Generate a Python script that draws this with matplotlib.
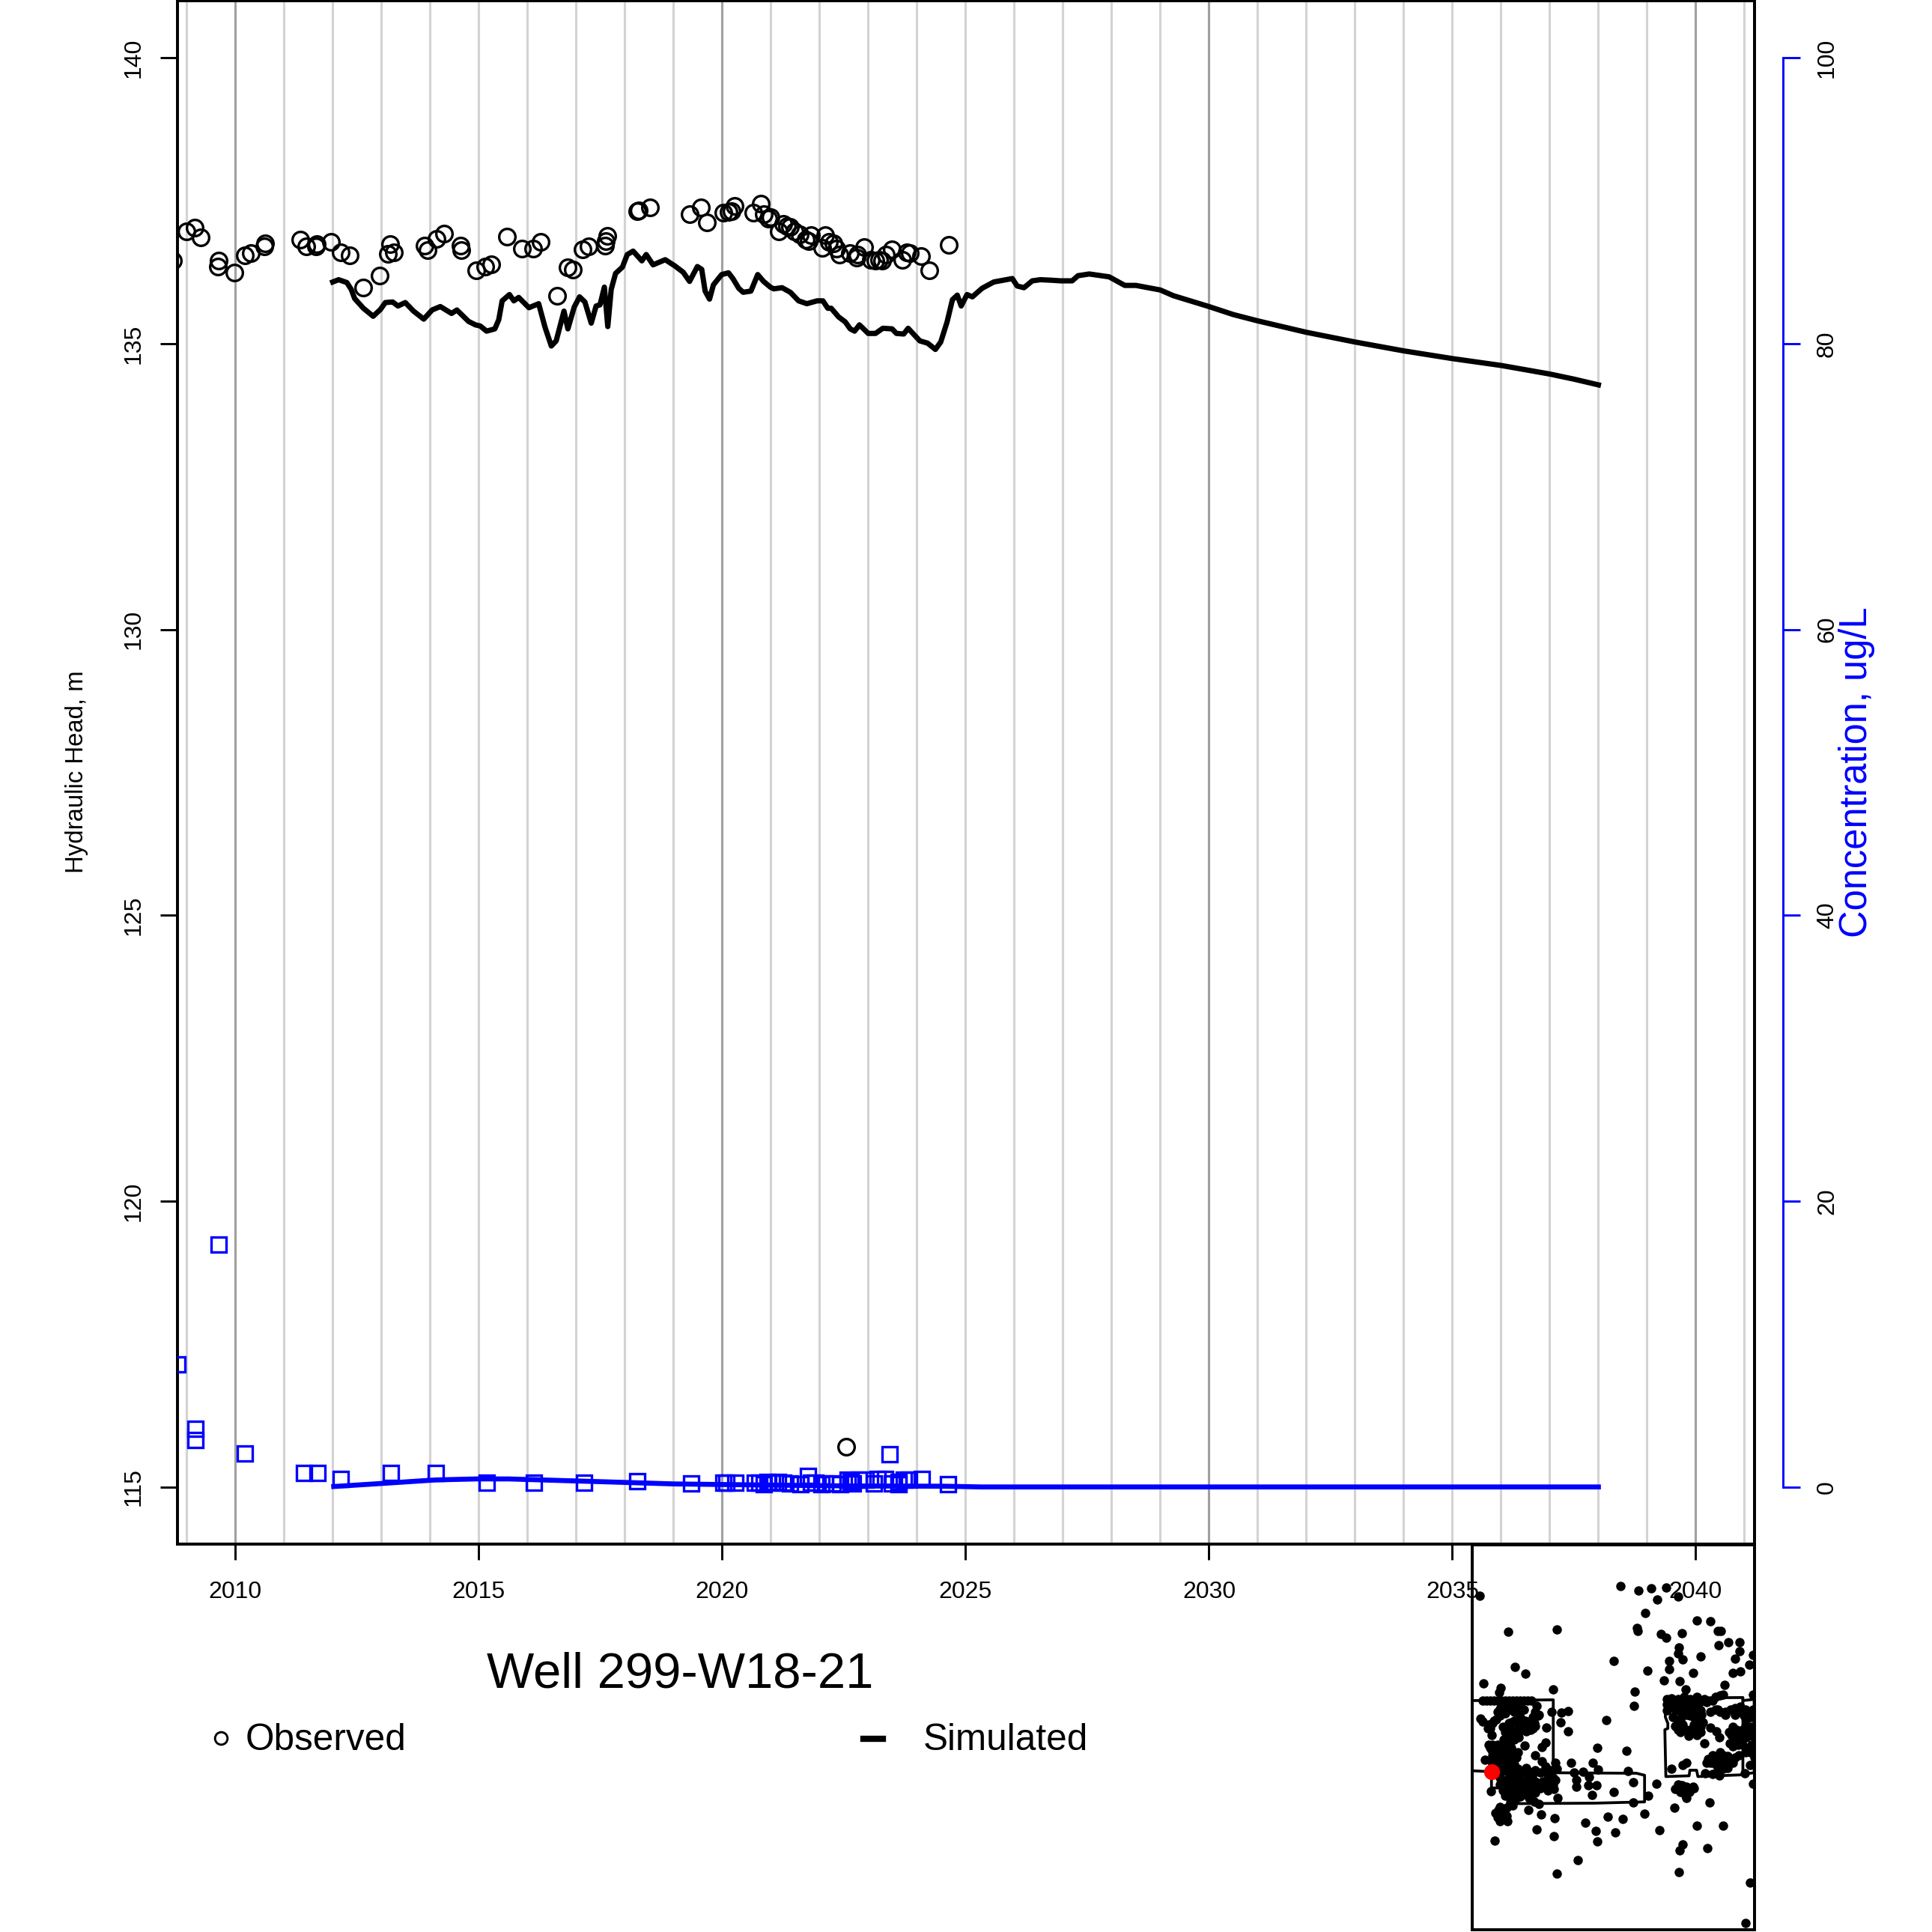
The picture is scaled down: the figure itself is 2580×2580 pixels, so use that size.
import matplotlib
matplotlib.use("Agg")
import matplotlib.pyplot as plt
from matplotlib.lines import Line2D

plt.rcParams['font.family'] = ['Liberation Sans', 'DejaVu Sans']

# observed head
obs_year = [2008.72, 2009.0, 2009.16, 2009.29, 2009.64, 2009.65, 2009.98, 2010.2, 2010.32, 2010.6, 2010.61,
            2011.33, 2011.45, 2011.65, 2011.67, 2011.97, 2012.16, 2012.35, 2012.62, 2012.96, 2013.13, 2013.18,
            2013.26, 2013.88, 2013.95, 2014.14, 2014.28, 2014.62, 2014.64, 2014.95, 2015.14, 2015.26, 2015.58,
            2015.89, 2016.12, 2016.27, 2016.61, 2016.83, 2016.94, 2017.14, 2017.26, 2017.59, 2017.61, 2017.64,
            2018.26, 2018.29, 2018.51, 2019.34, 2019.56, 2019.68, 2020.03, 2020.13, 2020.2, 2020.25, 2020.64,
            2020.8, 2020.85, 2020.94, 2020.99, 2021.16, 2021.26, 2021.33, 2021.4, 2021.48, 2021.59, 2021.71,
            2021.78, 2021.82, 2022.05, 2022.12, 2022.19, 2022.28, 2022.35, 2022.41, 2022.54, 2022.63, 2022.76,
            2022.78, 2022.92, 2023.05, 2023.15, 2023.22, 2023.29, 2023.36, 2023.49, 2023.7, 2023.8, 2023.85,
            2024.09, 2024.26, 2024.65]
obs_head = [136.45, 136.96, 137.03, 136.86, 136.35, 136.45, 136.24, 136.54, 136.59, 136.7, 136.75,
            136.82, 136.7, 136.7, 136.74, 136.78, 136.6, 136.54, 135.98, 136.19, 136.57, 136.74,
            136.6, 136.72, 136.64, 136.83, 136.93, 136.72, 136.64, 136.29, 136.35, 136.39, 136.87,
            136.66, 136.66, 136.78, 135.84, 136.33, 136.3, 136.65, 136.7, 136.72, 136.8, 136.89,
            137.32, 137.33, 137.39, 137.26, 137.39, 137.12, 137.29, 137.31, 137.32, 137.41, 137.29,
            137.45, 137.26, 137.19, 137.21, 136.97, 137.1, 137.06, 137.04, 136.97, 136.91, 136.82,
            136.8, 136.9, 136.68, 136.9, 136.78, 136.75, 136.67, 136.56, 115.7, 136.58, 136.51,
            136.56, 136.69, 136.47, 136.45, 136.47, 136.45, 136.56, 136.65, 136.47, 136.6, 136.58,
            136.53, 136.29, 136.73]

# simulated head
sim_year = [2012.0, 2012.12, 2012.29, 2012.38, 2012.45, 2012.63, 2012.83, 2012.98, 2013.08, 2013.23, 2013.34,
            2013.49, 2013.66, 2013.87, 2014.04, 2014.21, 2014.44, 2014.55, 2014.79, 2014.93, 2015.03, 2015.16,
            2015.33, 2015.41, 2015.48, 2015.63, 2015.72, 2015.82, 2016.03, 2016.23, 2016.36, 2016.49, 2016.59,
            2016.75, 2016.83, 2016.96, 2017.07, 2017.18, 2017.31, 2017.41, 2017.49, 2017.58, 2017.65, 2017.72,
            2017.81, 2017.95, 2018.05, 2018.17, 2018.35, 2018.44, 2018.58, 2018.83, 2019.03, 2019.2, 2019.33,
            2019.49, 2019.58, 2019.65, 2019.74, 2019.82, 2019.99, 2020.13, 2020.22, 2020.34, 2020.43, 2020.59,
            2020.73, 2020.85, 2020.99, 2021.06, 2021.23, 2021.4, 2021.57, 2021.74, 2021.95, 2022.07, 2022.17,
            2022.24, 2022.39, 2022.53, 2022.63, 2022.72, 2022.82, 2023.0, 2023.15, 2023.3, 2023.49, 2023.58,
            2023.73, 2023.82, 2023.95, 2024.06, 2024.22, 2024.38, 2024.49, 2024.62, 2024.73, 2024.83, 2024.91,
            2025.03, 2025.14, 2025.34, 2025.58, 2025.96, 2026.06, 2026.2, 2026.37, 2026.54, 2026.78, 2026.95,
            2027.19, 2027.31, 2027.54, 2027.95, 2028.27, 2028.5, 2029, 2029.27, 2030, 2030.5, 2031, 2032,
            2033, 2034, 2035, 2036, 2037, 2037.5, 2038]
sim_head = [136.08, 136.12, 136.07, 135.95, 135.79, 135.62, 135.48, 135.6, 135.72, 135.73, 135.66,
            135.72, 135.57, 135.43, 135.59, 135.65, 135.53, 135.59, 135.39, 135.33, 135.31, 135.22,
            135.26, 135.42, 135.75, 135.86, 135.75, 135.81, 135.63, 135.7, 135.29, 134.96, 135.05,
            135.57, 135.26, 135.64, 135.82, 135.73, 135.36, 135.66, 135.68, 135.99, 135.3, 135.95,
            136.23, 136.34, 136.56, 136.62, 136.45, 136.56, 136.38, 136.47, 136.36, 136.25, 136.09,
            136.35, 136.3, 135.92, 135.78, 136.03, 136.21, 136.24, 136.14, 135.97, 135.9, 135.92,
            136.21, 136.09, 135.99, 135.96, 135.98, 135.9, 135.75, 135.7, 135.75, 135.75, 135.62,
            135.62, 135.47, 135.38, 135.26, 135.22, 135.33, 135.18, 135.18, 135.27, 135.26, 135.18,
            135.17, 135.27, 135.15, 135.05, 135.01, 134.9, 135.03, 135.38, 135.77, 135.85, 135.66,
            135.86, 135.82, 135.97, 136.08, 136.14, 136.01, 135.98, 136.1, 136.12, 136.11, 136.1,
            136.1, 136.19, 136.22, 136.17, 136.02, 136.02, 135.94, 135.84, 135.65, 135.51, 135.4, 135.2,
            135.03, 134.875, 134.74, 134.62, 134.47, 134.38, 134.28]

# observed concentration
conc_year = [2008.81, 2009.18, 2009.18, 2009.65, 2010.2, 2011.41, 2011.68, 2012.17, 2013.19, 2014.12, 2015.17,
             2016.13, 2017.16, 2018.25, 2019.37, 2020.03, 2020.08, 2020.27, 2020.67, 2020.76, 2020.85, 2020.93,
             2021.02, 2021.15, 2021.25, 2021.4, 2021.61, 2021.77, 2021.83, 2021.92, 2022.04, 2022.12, 2022.27,
             2022.43, 2022.58, 2022.64, 2022.68, 2022.81, 2022.94, 2023.12, 2023.2, 2023.35, 2023.44, 2023.48,
             2023.62, 2023.63, 2023.73, 2023.84, 2024.1, 2024.64]
conc_val = [8.56, 4.05, 3.27, 16.95, 2.34, 1.0, 1.0, 0.58, 1.0, 1.0, 0.3,
            0.3, 0.3, 0.4, 0.26, 0.3, 0.3, 0.3, 0.3, 0.3, 0.17, 0.33,
            0.3, 0.33, 0.3, 0.26, 0.17, 0.79, 0.3, 0.3, 0.17, 0.23, 0.23,
            0.17, 0.52, 0.35, 0.26, 0.52, 0.52, 0.26, 0.56, 0.56, 2.31, 0.26,
            0.35, 0.17, 0.52, 0.52, 0.58, 0.17]

# simulated concentration
conc_sim_year = [2012.02, 2013.08, 2014.11, 2014.93, 2015.62, 2016.3, 2017.68, 2019.02, 2020.5, 2022.58, 2024.6, 2025.32, 2038]
conc_sim_val = [0.03, 0.26, 0.49, 0.56, 0.56, 0.49, 0.35, 0.21, 0.15, 0.07, 0.05, 0.0, 0.0]

year_ticks = [2010, 2015, 2020, 2025, 2030, 2035, 2040]
head_ticks = [115, 120, 125, 130, 135, 140]
conc_ticks = [0, 20, 40, 60, 80, 100]

# site map wells, map units
map_x = [642, 714, 762, 822, 786, 870, 78, 738, 947, 1001, 708, 710, 192, 386, 802, 822, 887, 1030, 1042, 1073, 1116,
         1032, 875, 870, 1118, 890, 962, 1100, 1172, 615, 836, 836, 1155, 218, 260, 749, 932, 1090, 1120, 814, 878,
         92, 162, 157, 371, 698, 900, 1056, 695, 585, 1170, 1050, 1020,
         90, 105, 120, 135, 150, 165, 180, 195, 210, 225, 240, 255, 270, 285,
         305, 160, 180, 366, 405, 432, 315, 290, 82, 90, 240, 255, 225, 210, 230, 240, 160, 145, 130, 120, 125, 400,
         432, 345, 300, 280, 260, 205, 190, 180, 205, 225, 200, 340, 325, 258, 130, 150, 170, 125, 145, 165, 190, 215,
         230, 205, 130, 155, 180, 100, 300, 325, 340, 380, 385, 200, 215, 265, 240, 290, 320, 350, 380, 180, 160, 190,
         215, 240, 270, 300, 340, 375, 122, 170, 200, 220, 250, 280, 300, 210, 240, 275, 295, 315, 390, 210, 185, 153,
         170, 150, 160, 188, 272, 324, 378, 306, 375, 138, 386, 470, 444, 530, 552, 456, 492, 514, 465, 464, 512, 546,
         528, 615, 672, 692, 692, 752, 783, 548, 666, 735, 591, 651, 500, 542, 620, 548, 797,
         825, 845, 870, 895, 920, 945, 975, 825, 850, 880, 905, 930, 955, 985, 825, 845, 885, 940, 960, 1030, 1080,
         1100, 1120, 1060, 1100, 850, 880, 890, 935, 950, 970, 870, 880, 905, 912, 945, 960, 1000, 1025, 1035, 1090,
         1075, 1105, 1140, 1150, 1165, 1145, 1160, 1145, 1125, 1100, 1078, 1165, 1150, 1140, 975, 1040, 1010, 990, 985,
         1040, 1070, 1100, 1060, 1090, 1050, 1035, 980, 1010, 1137, 1160, 1175, 905, 890, 843, 1170, 1160, 1140,
         870, 885, 905, 930, 860, 880, 900, 915, 935, 855, 998, 945, 1050, 888, 878, 989, 873]
map_y = [204, 221, 212, 209, 257, 245, 242, 310, 340, 343, 367, 380, 384, 373, 393, 406, 390, 380, 381, 425, 425,
         437, 445, 468, 460, 491, 481, 490, 476, 497, 497, 530, 512, 523, 549, 538, 547, 546, 541, 576, 579,
         588, 605, 622, 612, 620, 611, 594, 677, 733, 632, 630, 640,
         655, 655, 655, 655, 655, 655, 655, 655, 655, 655, 655, 655, 655, 655,
         675, 688, 705, 700, 703, 697, 710, 720, 725, 738, 680, 690, 670, 680, 700, 720, 715, 730, 745, 765, 792, 742,
         776, 762, 755, 770, 760, 740, 760, 780, 790, 800, 815, 820, 838, 832, 830, 830, 835, 850, 860, 850, 850, 860,
         860, 840, 870, 880, 880, 888, 872, 895, 915, 900, 925, 905, 930, 920, 945, 945, 940, 945, 970, 930, 960, 965,
         960, 975, 960, 975, 990, 1005, 1012, 1010, 1000, 1015, 1000, 1005, 1020, 1040, 1035, 1040, 1055, 1062, 1040, 1070, 1078, 1088,
         1100, 1115, 1130, 1130, 1086, 1106, 1118, 1165, 1190, 1207, 1337, 1284, 900, 900, 928, 940, 937, 956, 970, 994, 990, 990,
         1028, 1015, 934, 978, 1058, 1030, 982, 840, 852, 1103, 1112, 1122, 1136, 1170, 1177, 1212, 1168,
         650, 645, 650, 640, 650, 640, 650, 670, 665, 670, 665, 670, 665, 660, 695, 680, 700, 690, 695, 690, 690,
         685, 680, 700, 710, 720, 730, 750, 720, 740, 740, 770, 780, 770, 795, 790, 780, 762, 775, 800, 760,
         780, 770, 755, 700, 720, 730, 790, 800, 810, 800, 825, 830, 840, 860, 825, 858, 870, 885, 900,
         880, 875, 880, 900, 900, 925, 950, 942, 945, 943, 910, 905, 900, 910, 925, 982, 1375, 1532,
         985, 990, 995, 995, 1005, 1015, 1030, 1015, 1000, 1077, 1058, 1148, 1148, 1224, 1248, 1237, 1331]

# wells in the dense clusters
dense_x = [150, 135, 115, 110, 170, 195, 215, 185, 205, 225, 215, 235, 190, 175, 120, 140, 115, 165, 185, 205, 225,
           145, 125, 170, 190, 215, 230, 150, 130, 165, 195, 200, 225, 255, 275, 300, 335, 360, 160, 180, 205, 230,
           260, 285, 180, 195, 225, 255, 280, 300, 200, 160, 165, 140, 185, 240, 260, 275, 295, 235, 250, 265, 290,
           215, 230, 195, 195, 170, 165, 300, 310, 350, 330, 320, 350, 370, 370, 360,
           840, 860, 875, 900, 920, 945, 965, 905, 885, 920, 870, 860, 935, 940, 960, 885, 920, 1000, 1020, 1040,
           1060, 1120, 1135, 1140, 1170, 1175, 1130, 1110, 1085, 1120, 1140, 1165, 1155, 1175, 1130, 1110, 1090,
           1175, 1160, 1020, 1050, 1075, 1020, 1040, 1070, 1030, 1000, 1115, 1175, 1010, 1040, 880, 895, 920, 905]
dense_y = [700, 735, 750, 765, 760, 745, 735, 790, 770, 780, 810, 800, 825, 810, 840, 845, 830, 870, 865, 880, 880,
           895, 890, 900, 900, 905, 925, 920, 905, 935, 935, 955, 945, 940, 935, 930, 935, 930, 985, 985, 985, 985,
           985, 985, 1030, 1025, 1040, 1025, 1025, 1000, 1060, 1075, 1120, 1100, 1110, 740, 735, 745, 745, 760, 770, 775, 765,
           700, 680, 670, 690, 668, 675, 700, 715, 965, 975, 1000, 1010, 985, 960, 945,
           660, 690, 695, 690, 690, 710, 710, 710, 715, 715, 740, 755, 750, 770, 760, 760, 770, 700, 690, 700,
           710, 700, 715, 690, 690, 715, 770, 780, 790, 790, 780, 760, 770, 800, 830, 830, 835,
           850, 860, 880, 870, 895, 905, 905, 920, 930, 900, 870, 880, 655, 635, 1000, 1015, 1005, 1040]
well_x = [127]
well_y = [936]

# model boundary outlines, map units
west_x = [48, 372, 372, 705, 737, 737, 540, 190, 190, 125, 125, 48]
west_y = [655, 652, 940, 942, 950, 1055, 1060, 1062, 1000, 1000, 936, 932]
east_x = [820, 820, 830, 830, 818, 822, 915, 918, 945, 950, 1130, 1130, 820]
east_y = [645, 720, 745, 765, 770, 955, 952, 930, 930, 955, 948, 643, 645]
east2_x = [1130, 1175, 1175, 1130]
east2_y = [655, 650, 940, 945]

W = H = 2580.0


def fx(px):
    return px / W


def fy(py):
    return 1 - py / H


fig = plt.figure(figsize=(8.6, 8.6), dpi=300, facecolor='white')
left, right, top, bottom = 237, 2342.5, 1, 2062
ax = fig.add_axes([fx(left), fy(bottom), (right - left) / W, (bottom - top) / H])
ax.set_xlim(2008.81, 2041.2)
ax.set_ylim(114, 141)

for yr in range(2009, 2042):
    c = '#a0a0a0' if yr % 10 == 0 else '#d3d3d3'
    ax.axvline(yr, color=c, lw=0.75, zorder=1)

ax.plot(obs_year, obs_head, 'o', mfc='none', mec='black', mew=0.8, ms=5.2, zorder=3)
ax.plot(sim_year, sim_head, '-', color='black', lw=1.7, zorder=3)

ax.set_xticks(year_ticks)
ax.set_yticks(head_ticks)
ax.tick_params(axis='x', length=5, width=0.7, pad=6.7, labelsize=7.7)
ax.tick_params(axis='y', length=5.5, width=0.7, pad=4.8, labelsize=7.7)
for t in ax.get_yticklabels():
    t.set_rotation(90)
    t.set_va('center')
for s in ax.spines.values():
    s.set_linewidth(0.95)

ax2 = ax.twinx()
ax2.set_ylim(-4, 104)
ax2.plot(conc_year, conc_val, 's', mfc='none', mec='#0000ff', mew=0.8, ms=5.0, zorder=3)
ax2.plot(conc_sim_year, conc_sim_val, '-', color='#0000ff', lw=1.6, zorder=3)
ax2.set_yticks(conc_ticks)
for name in ['left', 'top', 'bottom']:
    ax2.spines[name].set_visible(False)
ax2.spines['right'].set_position(('outward', 9.3))
ax2.spines['right'].set_bounds(0, 100)
ax2.spines['right'].set_color('#0000ff')
ax2.spines['right'].set_linewidth(0.7)
ax2.tick_params(axis='y', length=5.5, width=0.7, color='#0000ff', pad=5, labelsize=7.7, labelcolor='black')
for t in ax2.get_yticklabels():
    t.set_rotation(90)
    t.set_va('center')

fig.text(fx(103), fy(1031), 'Hydraulic Head, m', rotation=90, ha='center', va='center', fontsize=7.9)
fig.text(fx(2479), fy(1031), 'Concentration, ug/L', rotation=90, ha='center', va='center', fontsize=12.15, color='#0000ff')
fig.text(fx(908), fy(2236), 'Well 299-W18-21', ha='center', va='center', fontsize=16.1)

# legend
fig.add_artist(Line2D([fx(295)], [fy(2321)], marker='o', mfc='none', mec='black', mew=0.7, ms=4))
fig.text(fx(328), fy(2324), 'Observed', ha='left', va='center', fontsize=11.9)
fig.add_artist(Line2D([fx(1153), fx(1179)], [fy(2322), fy(2322)], color='black', lw=2.0))
fig.text(fx(1233), fy(2324), 'Simulated', ha='left', va='center', fontsize=11.9)

# site map, transparent so the year labels show through
inset_l, inset_r, inset_t, inset_b = 1966, 2342.5, 2063, 2577
axm = fig.add_axes([fx(inset_l), fy(inset_b), (inset_r - inset_l) / W, (inset_b - inset_t) / H])
axm.patch.set_alpha(0)
axm.set_xlim(48, 1175)
axm.set_ylim(1560, 40)
axm.set_xticks([])
axm.set_yticks([])
for s in axm.spines.values():
    s.set_linewidth(0.95)
axm.plot(west_x, west_y, '-', color='black', lw=0.9)
axm.plot(east_x, east_y, '-', color='black', lw=0.9)
axm.plot(east2_x, east2_y, '-', color='black', lw=0.9)
axm.plot(map_x, map_y, 'o', color='black', ms=3.0, mew=0)
axm.plot(dense_x, dense_y, 'o', color='black', ms=3.0, mew=0)
axm.plot(well_x, well_y, 'o', color='#ff0000', ms=5.1, mew=0)

fig.savefig('out.png', dpi=300)
